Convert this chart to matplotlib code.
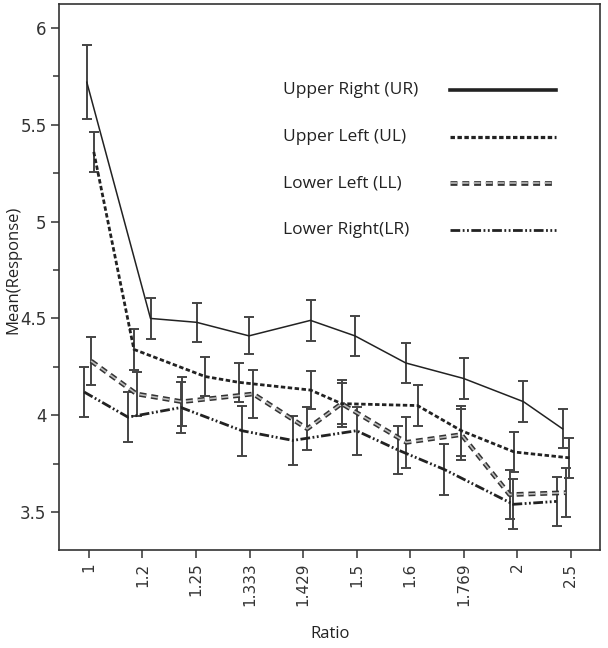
import numpy as np
import matplotlib.pyplot as plt
from matplotlib.lines import Line2D

plt.rcParams['font.family'] = ['Open Sans', 'DejaVu Sans']
plt.rcParams['lines.scale_dashes'] = False

ratios = ['1', '1.2', '1.25', '1.333', '1.429', '1.5', '1.6', '1.769', '2', '2.5']

ur_mean = [5.72, 4.50, 4.48, 4.41, 4.49, 4.41, 4.27, 4.19, 4.07, 3.93]
ur_err = [0.19, 0.105, 0.10, 0.095, 0.105, 0.105, 0.105, 0.105, 0.105, 0.10]
ul_mean = [5.36, 4.34, 4.20, 4.17, 4.13, 4.06, 4.05, 3.92, 3.81, 3.78]
ul_err = [0.105, 0.105, 0.10, 0.10, 0.10, 0.105, 0.105, 0.13, 0.105, 0.105]
ll_mean = [4.28, 4.11, 4.07, 4.11, 3.93, 4.06, 3.86, 3.90, 3.59, 3.60]
ll_err = [0.125, 0.115, 0.125, 0.125, 0.11, 0.12, 0.13, 0.13, 0.125, 0.125]
lr_mean = [4.12, 3.99, 4.04, 3.92, 3.87, 3.92, 3.82, 3.72, 3.54, 3.555]
lr_err = [0.13, 0.13, 0.13, 0.13, 0.125, 0.125, 0.125, 0.13, 0.13, 0.125]

# horizontal jitter of each series (in category units), as in the original
ur_jit = [-0.04, 0.15, 0.01, -0.01, 0.14, -0.03, -0.08, 0.0, 0.12, -0.15]
ul_jit = [0.09, -0.16, 0.17, -0.2, 0.14, -0.28, 0.14, -0.04, -0.05, -0.02]
ll_jit = [0.04, -0.11, -0.26, 0.07, 0.08, -0.28, -0.07, -0.04, -0.14, -0.09]
lr_jit = [-0.09, -0.27, -0.28, -0.14, -0.19, 0.0, -0.22, -0.36, -0.07, -0.26]

fig = plt.figure(figsize=(6.08, 6.48), dpi=100)
ax = fig.add_axes([59 / 608, 1 - 550 / 648, 541 / 608, 546 / 648])

pos = np.arange(len(ratios))

ul_style = dict(dashes=(3.2, 1.8), linewidth=2.0, color='#222222')
ll_outer = dict(dashes=(5, 3.5), linewidth=3.4, color='#333333', dash_capstyle='butt')
ll_inner = dict(dashes=(5, 3.5), linewidth=1.2, color='#bbbbbb', dash_capstyle='butt')
lr_style = dict(dashes=(7, 1.8, 1.3, 1.8, 1.3, 1.8), linewidth=2.0, color='#222222')

def errs(x, m, e):
    ax.errorbar(x, m, yerr=e, fmt='none', ecolor='#444444', elinewidth=1.4,
                capsize=3.6, capthick=1.4, zorder=2)

x = pos + np.array(ur_jit)
errs(x, ur_mean, ur_err)
ax.plot(x, ur_mean, '-', linewidth=1.1, color='#222222', zorder=3)

x = pos + np.array(ul_jit)
errs(x, ul_mean, ul_err)
ax.plot(x, ul_mean, zorder=3, **ul_style)

x = pos + np.array(ll_jit)
errs(x, ll_mean, ll_err)
ax.plot(x, ll_mean, zorder=3, **ll_outer)
ax.plot(x, ll_mean, zorder=3.1, **ll_inner)

x = pos + np.array(lr_jit)
errs(x, lr_mean, lr_err)
ax.plot(x, lr_mean, zorder=3, **lr_style)

ax.set_xlim(-0.56, 9.55)
ax.set_ylim(3.304, 6.124)
ax.set_xticks(pos)
ax.set_xticklabels(ratios, rotation=90, fontsize=11, family=['DejaVu Sans'], color='#333333')
ax.set_yticks([3.5, 4, 4.5, 5, 5.5, 6])
ax.set_yticklabels(['3.5', '4', '4.5', '5', '5.5', '6'], fontsize=12, family=['DejaVu Sans'], color='#333333')
ax.set_yticks([3.75, 4.25, 4.75, 5.25, 5.75], minor=True)
ax.tick_params(axis='both', which='major', length=6, width=1.1, color='#333333', pad=3)
ax.tick_params(axis='y', which='minor', length=4, width=1.1, color='#333333')
for s in ax.spines.values():
    s.set_color('#333333')
    s.set_linewidth(1.2)

fig.text(13 / 608, 1 - 270 / 648, 'Mean(Response)', fontsize=12, rotation=90,
         ha='center', va='center', color='#222222')
fig.text(330 / 608, 1 - 634 / 648, 'Ratio', fontsize=12, ha='center', va='center', color='#222222')

# legend drawn by hand: label on the left, line sample on the right
leg_names = ['Upper Right (UR)', 'Upper Left (UL)', 'Lower Left (LL)', 'Lower Right(LR)']
leg_rows = [90, 137, 183, 230]
for name, yy in zip(leg_names, leg_rows):
    fig.text(283 / 608, 1 - yy / 648, name, fontsize=12.5, ha='left', va='center', color='#222222')

def sample(yy, **kw):
    fig.add_artist(Line2D([450 / 608, 556 / 608], [1 - yy / 648] * 2, transform=fig.transFigure, **kw))

sample(leg_rows[0], linewidth=2.6, color='#222222')
sample(leg_rows[1], dashes=(3.2, 1.8), linewidth=2.3, color='#222222')
sample(leg_rows[2], **ll_outer)
sample(leg_rows[2], **ll_inner)
sample(leg_rows[3], **lr_style)

fig.savefig('out.png', dpi=100)
